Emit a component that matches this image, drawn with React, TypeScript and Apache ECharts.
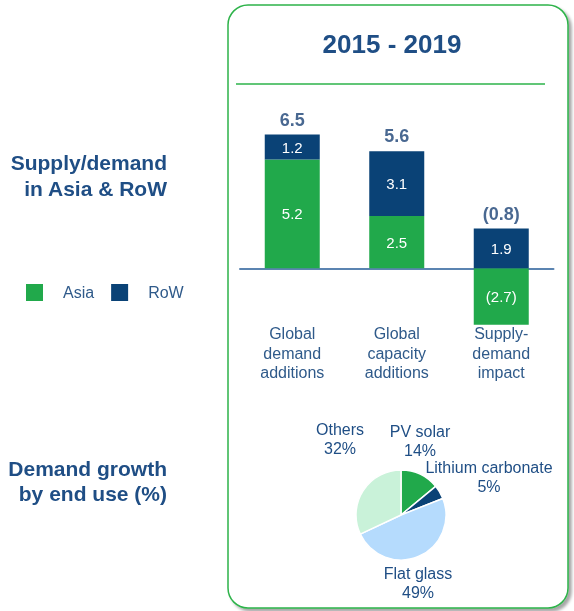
import React, { useEffect, useRef } from "react";
import * as echarts from "echarts";

const categories = ["Global\ndemand\nadditions", "Global\ncapacity\nadditions", "Supply-\ndemand\nimpact"];
const asiaValues = [5.2, 2.5, -2.7];
const rowValues = [1.2, 3.1, 1.9];
const totals = [6.5, 5.6, -0.8];
const pieNames = ["PV solar", "Lithium carbonate", "Flat glass", "Others"];
const pieValues = [14, 5, 49, 32];
const pieColors = ["#21a94b", "#0a4276", "#b5dbfd", "#c9f2d9"];
const pieLabelPos = [
  [420, 441],
  [489, 477],
  [418, 583],
  [340, 439],
];

const FONT = "'Liberation Sans', Arial, sans-serif";
const DARK = "#1f4e85";
const TOTAL = "#1c4275";
const MID = "#2f5a8a";
const GREEN = "#21a94b";
const NAVY = "#0a4276";

const fmt = (v: number) => (v < 0 ? `(${Math.abs(v).toFixed(1)})` : v.toFixed(1));

export default function App() {
  const ref = useRef<HTMLDivElement>(null);
  useEffect(() => {
    if (!ref.current) return;
    const chart = echarts.init(ref.current, undefined, { renderer: "svg" });
    const tops = asiaValues.map((a, i) => Math.max(a, 0) + Math.max(rowValues[i], 0));
    chart.setOption({
      animation: false,
      textStyle: { fontFamily: FONT },
      legend: {
        data: ["Asia", "RoW"],
        left: 21,
        top: 279,
        itemWidth: 17,
        itemHeight: 17,
        itemGap: 17,
        icon: "rect",
        textStyle: { fontSize: 16, color: MID, fontFamily: FONT, padding: [0, 0, 0, 15] },
      },
      grid: { left: 240, width: 313.5, top: 122, height: 209 },
      xAxis: {
        type: "category",
        data: categories,
        axisLine: { onZero: true, lineStyle: { color: "#5b84b1", width: 2 } },
        axisTick: { show: false },
        axisLabel: { margin: -7, fontSize: 16, lineHeight: 19.5, color: MID, fontFamily: FONT },
        splitLine: { show: false },
      },
      yAxis: { type: "value", min: -3, max: 7, show: false, splitLine: { show: false } },
      graphic: [
        {
          type: "rect",
          z: -10,
          shape: { x: 228, y: 5, width: 340, height: 603, r: 20 },
          style: {
            fill: "#fff",
            stroke: "#2db34a",
            lineWidth: 1.5,
            shadowColor: "rgba(0,0,0,0.35)",
            shadowBlur: 3,
            shadowOffsetX: 3,
            shadowOffsetY: 3,
          },
        },
        {
          type: "line",
          z: -5,
          shape: { x1: 236, y1: 84, x2: 545, y2: 84 },
          style: { stroke: "#2db34a", lineWidth: 1.5 },
        },
        {
          type: "text",
          x: 392,
          y: 44,
          style: {
            text: "2015 - 2019",
            fill: DARK,
            font: `bold 26px ${FONT}`,
            align: "center",
            verticalAlign: "middle",
          },
        },
        {
          type: "text",
          x: 167,
          y: 162,
          style: { text: "Supply/demand", fill: DARK, font: `bold 21px ${FONT}`, align: "right", verticalAlign: "middle" },
        },
        {
          type: "text",
          x: 167,
          y: 188,
          style: { text: "in Asia & RoW", fill: DARK, font: `bold 21px ${FONT}`, align: "right", verticalAlign: "middle" },
        },
        {
          type: "text",
          x: 167,
          y: 468,
          style: { text: "Demand growth", fill: DARK, font: `bold 21px ${FONT}`, align: "right", verticalAlign: "middle" },
        },
        {
          type: "text",
          x: 167,
          y: 493,
          style: { text: "by end use (%)", fill: DARK, font: `bold 21px ${FONT}`, align: "right", verticalAlign: "middle" },
        },
      ],
      series: [
        {
          name: "Asia",
          type: "bar",
          stack: "total",
          barWidth: 55,
          data: asiaValues,
          itemStyle: { color: GREEN },
          label: {
            show: true,
            position: "inside",
            color: "#fff",
            fontSize: 15,
            fontFamily: FONT,
            formatter: (p: any) => fmt(p.value),
          },
        },
        {
          name: "RoW",
          type: "bar",
          stack: "total",
          barWidth: 55,
          data: rowValues,
          itemStyle: { color: NAVY },
          label: {
            show: true,
            position: "inside",
            color: "#fff",
            fontSize: 15,
            fontFamily: FONT,
            formatter: (p: any) => fmt(p.value),
          },
        },
        {
          name: "Total",
          type: "scatter",
          symbolSize: 0,
          data: tops,
          label: {
            show: true,
            position: "top",
            distance: 6,
            color: TOTAL,
            fontSize: 18,
            fontWeight: "bold",
            fontFamily: FONT,
            formatter: (p: any) => fmt(totals[p.dataIndex]),
          },
        },
        {
          name: "End use",
          type: "pie",
          center: [401, 515],
          radius: 45,
          startAngle: 90,
          clockwise: true,
          itemStyle: { borderColor: "#fff", borderWidth: 1.5 },
          data: pieNames.map((n, i) => ({ name: n, value: pieValues[i], itemStyle: { color: pieColors[i] } })),
          label: {
            show: true,
            formatter: (p: any) => `${p.name}\n${p.value}%`,
            fontSize: 16,
            lineHeight: 19,
            color: DARK,
            fontFamily: FONT,
            align: "center",
            overflow: "none",
            width: 200,
          },
          labelLine: { show: false },
          labelLayout: (params: any) => {
            const pos = pieLabelPos[params.dataIndex];
            return { x: pos[0], y: pos[1], align: "center", verticalAlign: "middle" };
          },
          emphasis: { disabled: true },
        },
      ],
    });
    return () => chart.dispose();
  }, []);
  return <div ref={ref} style={{ position: "fixed", left: 0, top: 0, width: 574, height: 611 }} />;
}
